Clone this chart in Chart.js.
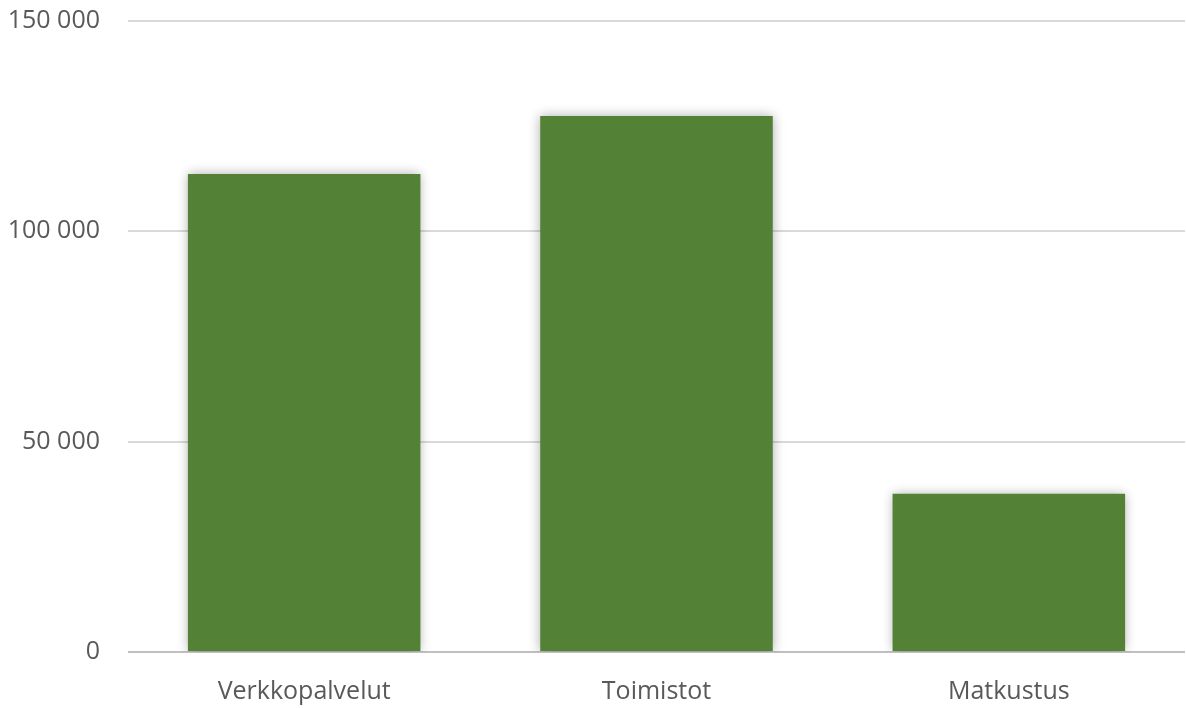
<!DOCTYPE html>
<html>
<head>
<meta charset="utf-8">
<script src="https://cdn.jsdelivr.net/npm/chart.js@4"></script>
<style>
  html, body { margin: 0; padding: 0; background: #fff; }
  #wrap { width: 1186px; height: 708px; }
</style>
</head>
<body>
<div id="wrap"><canvas id="myChart"></canvas></div>
<script>
var categories = ["Verkkopalvelut", "Toimistot", "Matkustus"];
var values = [113600, 127400, 37600];
var yTicks = [0, 50000, 100000, 150000];

// soft glow round the bars, like the office chart
var barShadow = {
    id: 'barShadow',
    beforeDatasetsDraw: function (chart) {
        var c = chart.ctx;
        c.save();
        c.shadowColor = 'rgba(0,0,0,0.32)';
        c.shadowBlur = 11;
        c.shadowOffsetX = 0;
        c.shadowOffsetY = 0;
    },
    afterDatasetsDraw: function (chart) {
        chart.ctx.restore();
    }
};

function fmt(v) {
    return String(v).replace(/\B(?=(\d{3})+(?!\d))/g, ' ');
}

var ctx = document.getElementById("myChart");
new Chart(ctx, {
    type: 'bar',
    data: {
        labels: categories,
        datasets: [{
            data: values,
            backgroundColor: '#538135',
            borderWidth: 0,
            categoryPercentage: 1,
            barPercentage: 0.66
        }]
    },
    plugins: [barShadow],
    options: {
        responsive: true,
        maintainAspectRatio: false,
        animation: false,
        layout: { padding: { top: 0, right: 1, left: 0, bottom: 0 } },
        plugins: {
            legend: { display: false },
            tooltip: { enabled: false }
        },
        scales: {
            x: {
                grid: { display: false, drawTicks: false },
                border: { display: false },
                ticks: {
                    color: '#595959',
                    font: { family: 'Open Sans', size: 25, lineHeight: 1 },
                    padding: 27
                },
                afterFit: function (axis) {
                    axis.height = 56;
                }
            },
            y: {
                min: 0,
                max: 150000,
                afterBuildTicks: function (axis) {
                    axis.ticks = yTicks.map(function (v) { return { value: v }; });
                },
                afterFit: function (axis) {
                    axis.width = 128;
                    axis.paddingTop = 21;
                    axis.paddingBottom = 13;
                },
                grid: {
                    drawTicks: false,
                    lineWidth: 2,
                    color: function (c) {
                        return c.tick && c.tick.value === 0 ? '#bfbfbf' : '#d9d9d9';
                    }
                },
                border: { display: false },
                ticks: {
                    color: '#595959',
                    font: { family: 'Open Sans', size: 25, lineHeight: 1 },
                    padding: 28,
                    callback: function (v) { return fmt(v); }
                }
            }
        }
    }
});
</script>
</body>
</html>
